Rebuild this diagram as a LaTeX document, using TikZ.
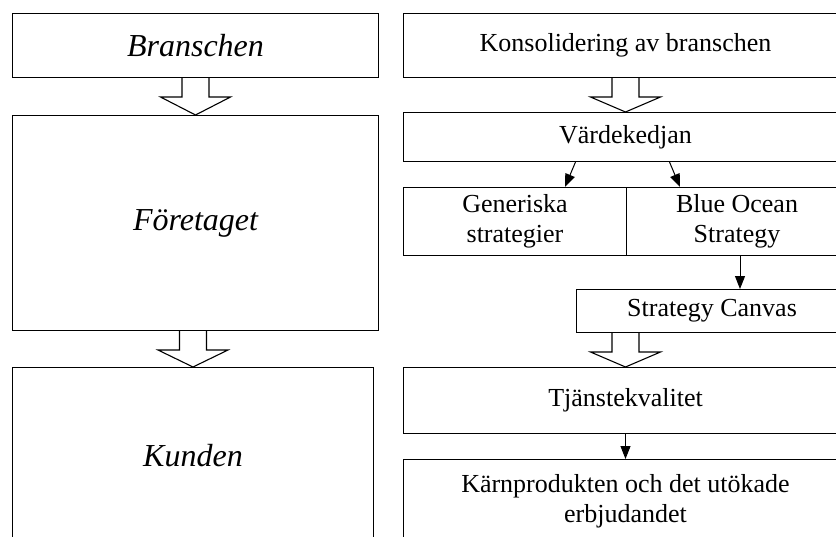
\documentclass[tikz,border=0pt]{standalone}
\usepackage{fontspec}
\setmainfont{Liberation Serif}
\usetikzlibrary{arrows.meta,calc}
\tikzset{
	box/.style={draw, line width=1pt, anchor=north west, inner sep=0pt, align=center, font=\fontsize{26}{30}\selectfont},
	bigbox/.style={box, font=\fontsize{32}{38}\selectfont\itshape},
	link/.style={->, line width=1pt},
}
% hollow block arrow from box #1 down to box #2
\newcommand\blockarrow[2]{%
	\draw[line width=1.1pt, line join=miter] let \p1=(#1.south), \p2=(#2.north) in
	(\x2-13.5pt,\y1) -- (\x2-13.5pt,\y1-19pt) -- (\x2-35pt,\y1-19pt) -- (\x2,\y2)
	-- (\x2+35pt,\y1-19pt) -- (\x2+13.5pt,\y1-19pt) -- (\x2+13.5pt,\y1);}

\begin{document}
\begin{tikzpicture}[x=1pt, y=-1pt, >={Triangle[length=13pt,width=10pt]}, line cap=round]
	\useasboundingbox (0,0) rectangle (836,536);
	\clip (0,0) rectangle (836,536);
	% left column
	\node[bigbox, minimum width=366pt, minimum height=64pt] (bransch) at (12,13) {Branschen};
	\node[bigbox, minimum width=366pt, minimum height=215pt] (foretag) at (12,115) {Företaget};
	\node[bigbox, minimum width=361pt, minimum height=176pt] (kund) at (12,367) {Kunden};
	\blockarrow{bransch}{foretag}
	\blockarrow{foretag}{kund}
	% right column
	\node[box, minimum width=444pt, minimum height=64pt] (konsol) at (403,13) {Konsolidering av branschen};
	\node[box, minimum width=444pt, minimum height=49pt] (varde) at (403,112) {Värdekedjan};
	\node[box, minimum width=223pt, minimum height=68pt] (generisk) at (403,187) {Generiska\\strategier};
	\node[box, minimum width=221pt, minimum height=68pt] (blue) at (626,187) {Blue Ocean\\Strategy};
	\node[box, minimum width=271pt, minimum height=43pt] (canvas) at (576,289) {Strategy Canvas};
	\node[box, minimum width=444pt, minimum height=66pt] (tjanst) at (403,367) {Tjänstekvalitet};
	\node[box, minimum width=444pt, minimum height=84pt] (karn) at (403,459) {Kärnprodukten och det utökade\\erbjudandet};
	\blockarrow{konsol}{varde}
	\blockarrow{canvas}{tjanst}
	\draw[link] ([xshift=-50pt]varde.south) -- ([xshift=50pt]generisk.north);
	\draw[link] ([xshift=44pt]varde.south) -- ([xshift=-57pt]blue.north);
	\draw[link] ([xshift=3pt]blue.south) -- ([xshift=3pt]blue.south |- canvas.north);
	\draw[link] (tjanst.south) -- (karn.north);
\end{tikzpicture}
\end{document}
